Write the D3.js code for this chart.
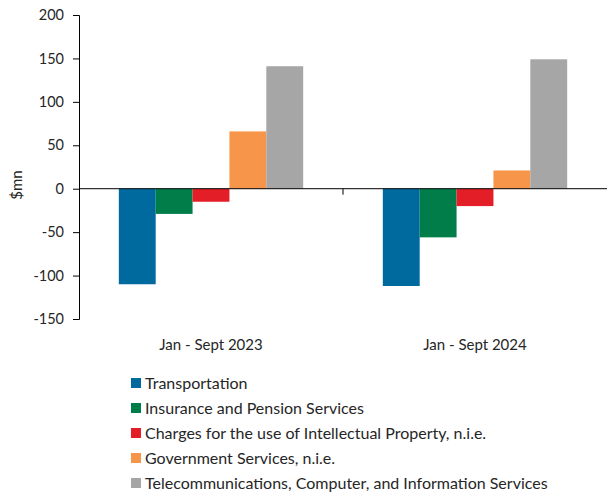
<!DOCTYPE html>
<html>
<head>
<meta charset="utf-8">
<script src="https://cdn.jsdelivr.net/npm/d3@7"></script>
<style>
  body { margin: 0; background: #fff; }
  svg text { font-family: Lato, "Open Sans", sans-serif; fill: #262626; }
</style>
</head>
<body>
<div id="chart"></div>
<script>
// periods on the x axis
var periods = ["Jan - Sept 2023", "Jan - Sept 2024"];

// service categories (legend order)
var services = [
	"Transportation",
	"Insurance and Pension Services",
	"Charges for the use of Intellectual Property, n.i.e.",
	"Government Services, n.i.e.",
	"Telecommunications, Computer, and Information Services"
];

// values in $mn, one per period
var transportation = [-110, -112];
var insurance = [-29, -56];
var ipCharges = [-15, -20];
var government = [66, 21];
var telecom = [141, 149];

var yTicks = [-150, -100, -50, 0, 50, 100, 150, 200];
var colors = ["#006A9F", "#007D49", "#E31E26", "#F7964A", "#A6A6A6"];

var seriesValues = [transportation, insurance, ipCharges, government, telecom];

var width = 607, height = 493;
var margin = {top: 15, right: 0, bottom: 174, left: 79};

var svg = d3.select("#chart")
	.append("svg")
	.attr("width", width)
	.attr("height", height);

var x0 = d3.scaleBand()
	.domain(periods)
	.range([margin.left, width - margin.right])
	.paddingInner(0)
	.paddingOuter(0);

var x1 = d3.scaleBand()
	.domain(services)
	.range([0, x0.bandwidth()])
	.paddingOuter(1.08)
	.paddingInner(0);

var y = d3.scaleLinear()
	.domain([-150, 200])
	.range([height - margin.bottom, margin.top]);

// bars
var groups = svg.selectAll(".period")
	.data(periods)
	.enter()
	.append("g")
	.attr("transform", function(d) { return "translate(" + x0(d) + ",0)"; });

groups.selectAll("rect")
	.data(function(p, i) {
		return services.map(function(s, j) { return {service: s, value: seriesValues[j][i], color: colors[j]}; });
	})
	.enter()
	.append("rect")
	.attr("x", function(d) { return x1(d.service); })
	.attr("width", x1.bandwidth())
	.attr("y", function(d) { return y(Math.max(0, d.value)); })
	.attr("height", function(d) { return Math.abs(y(d.value) - y(0)); })
	.attr("fill", function(d) { return d.color; });

// y axis (plain hyphen for negatives, like the original)
var yAxis = svg.append("g")
	.attr("transform", "translate(" + margin.left + ",0)")
	.call(d3.axisLeft(y).tickValues(yTicks).tickSize(6).tickPadding(9)
		.tickFormat(function(d) { return String(d); }));
yAxis.select(".domain").attr("stroke", "#000");
yAxis.selectAll(".tick line").attr("stroke", "#000");
yAxis.selectAll("text").style("font-size", "14.5px").attr("fill", "#262626");

// zero line with category tick in the middle
svg.append("line")
	.attr("x1", margin.left)
	.attr("x2", width - margin.right)
	.attr("y1", y(0))
	.attr("y2", y(0))
	.attr("stroke", "#000")
	.attr("stroke-width", 1);

svg.append("line")
	.attr("x1", x0(periods[1]))
	.attr("x2", x0(periods[1]))
	.attr("y1", y(0))
	.attr("y2", y(0) + 6)
	.attr("stroke", "#000");

// category labels
svg.selectAll(".cat")
	.data(periods)
	.enter()
	.append("text")
	.attr("x", function(d) { return x0(d) + x0.bandwidth() / 2; })
	.attr("y", 350)
	.attr("text-anchor", "middle")
	.style("font-size", "15px")
	.text(function(d) { return d; });

// y label
svg.append("text")
	.attr("transform", "translate(22,185) rotate(-90)")
	.attr("text-anchor", "middle")
	.style("font-size", "15px")
	.text("$mn");

// legend
var legend = svg.selectAll(".legend")
	.data(services)
	.enter()
	.append("g")
	.attr("transform", function(d, i) { return "translate(131," + (383 + i * 25) + ")"; });

legend.append("rect")
	.attr("x", 0)
	.attr("y", -5)
	.attr("width", 10)
	.attr("height", 10)
	.attr("fill", function(d, i) { return colors[i]; });

legend.append("text")
	.attr("x", 14)
	.attr("y", 5.5)
	.style("font-size", "16px")
	.text(function(d) { return d; });
</script>
</body>
</html>
